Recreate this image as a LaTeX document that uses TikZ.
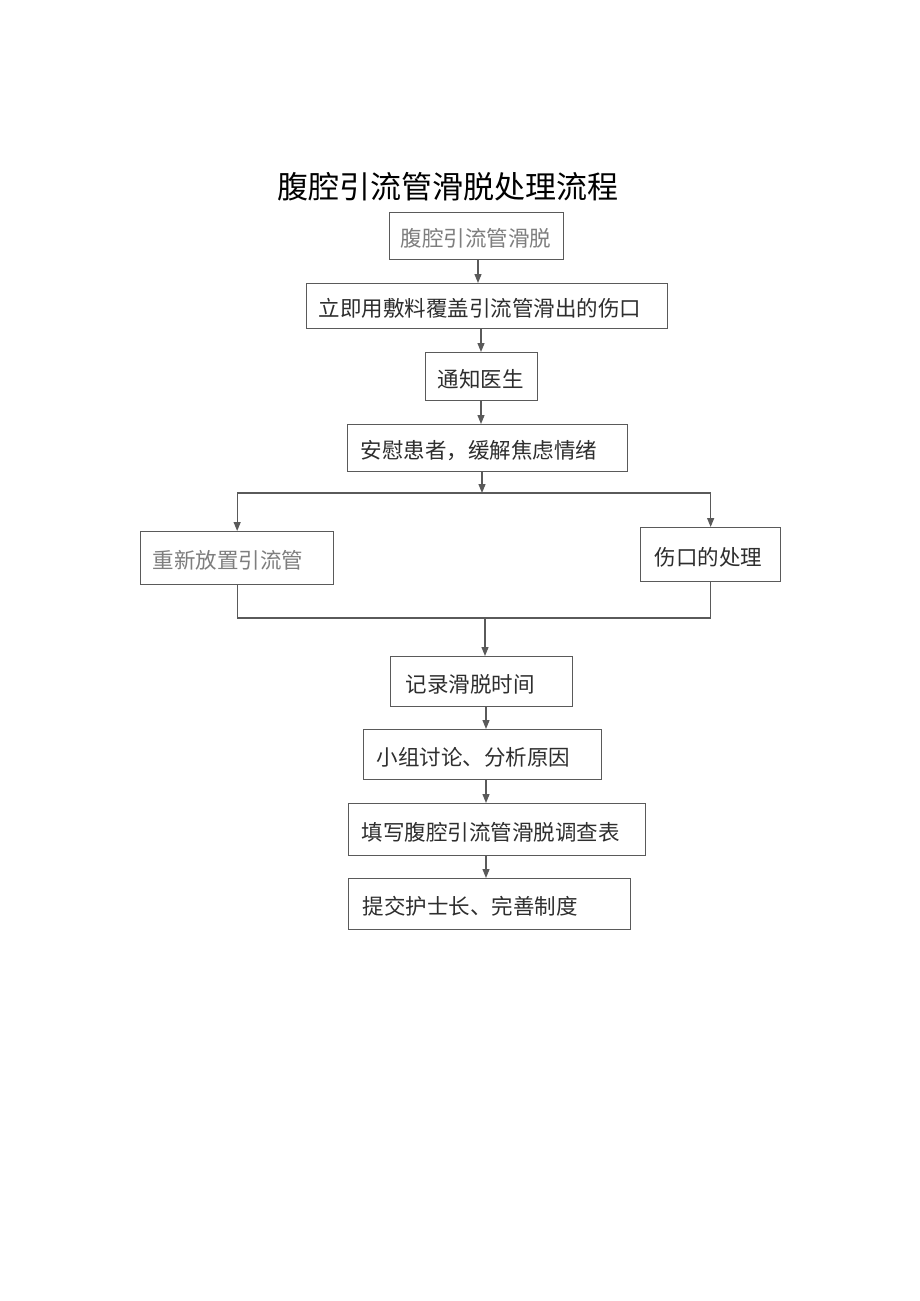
\documentclass[tikz,border=0pt]{standalone}
\usepackage{fontspec}
\newfontfamily\cjk{Noto Sans CJK SC}
\usetikzlibrary{arrows.meta}
\definecolor{lineg}{HTML}{5A5A5A}
\definecolor{txtd}{HTML}{2E2E2E}
\definecolor{txtl}{HTML}{7E7E7E}
\tikzset{
  boxn/.style={draw=lineg, line width=1.3pt, anchor=north west, align=left, inner ysep=0pt,
    font=\cjk\fontsize{21.5}{26}\selectfont, text=txtd, text height=22pt, text depth=1pt},
  lightt/.style={text=txtl},
  conn/.style={draw=lineg, line width=1.2pt},
  arr/.style={conn, -{Triangle[length=9pt,width=7pt]}},
}
\begin{document}
\begin{tikzpicture}[x=1pt,y=-1pt]
\useasboundingbox (0,0) rectangle (920,1301);
\fill[white] (0,0) rectangle (920,1301);
\node[font=\cjk\fontsize{31}{36}\selectfont, text=black] (title) at (448,187) {腹腔引流管滑脱处理流程};

\node[boxn, lightt, text width=152pt, inner xsep=11pt, minimum height=47pt] (b1) at (389,212) {腹腔引流管滑脱};
\node[boxn, text width=337pt, inner xsep=12pt, minimum height=45pt] (b2) at (306,283) {立即用敷料覆盖引流管滑出的伤口};
\node[boxn, text width=88pt, inner xsep=12pt, minimum height=48pt] (b3) at (425,352) {通知医生};
\node[boxn, text width=254pt, inner xsep=13pt, minimum height=47pt] (b4) at (347,424) {安慰患者，缓解焦虑情绪};
\node[boxn, lightt, text width=169pt, inner xsep=12pt, minimum height=53pt] (b5) at (140,531) {重新放置引流管};
\node[boxn, text width=112pt, inner xsep=14pt, minimum height=54pt] (b6) at (640,527) {伤口的处理};
\node[boxn, text width=152pt, inner xsep=15pt, minimum height=50pt] (b7) at (390,656) {记录滑脱时间};
\node[boxn, text width=212pt, inner xsep=13pt, minimum height=50pt] (b8) at (363,729) {小组讨论、分析原因};
\node[boxn, text width=271pt, inner xsep=13pt, minimum height=52pt] (b9) at (348,803) {填写腹腔引流管滑脱调查表};
\node[boxn, text width=254pt, inner xsep=14pt, minimum height=51pt] (b10) at (348,878) {提交护士长、完善制度};

\coordinate (c1) at (478,0);
\coordinate (c2) at (481,0);
\coordinate (split) at (482,493);
\coordinate (merge) at (485,618);
\coordinate (c3) at (486,0);

\draw[arr] (c1 |- b1.south) -- (c1 |- b2.north);
\draw[arr] (c2 |- b2.south) -- (c2 |- b3.north);
\draw[arr] (c2 |- b3.south) -- (c2 |- b4.north);
\draw[arr] (split |- b4.south) -- (split);
\draw[conn] (b5.north |- split) -- (b6.north |- split);
\draw[arr] (b5.north |- split) -- (b5.north);
\draw[arr] (b6.north |- split) -- (b6.north);
\draw[conn] (b5.south) -- (b5.south |- merge) -- (b6.south |- merge) -- (b6.south);
\draw[arr] (merge) -- (merge |- b7.north);
\draw[arr] (c3 |- b7.south) -- (c3 |- b8.north);
\draw[arr] (c3 |- b8.south) -- (c3 |- b9.north);
\draw[arr] (c3 |- b9.south) -- (c3 |- b10.north);
\end{tikzpicture}
\end{document}
